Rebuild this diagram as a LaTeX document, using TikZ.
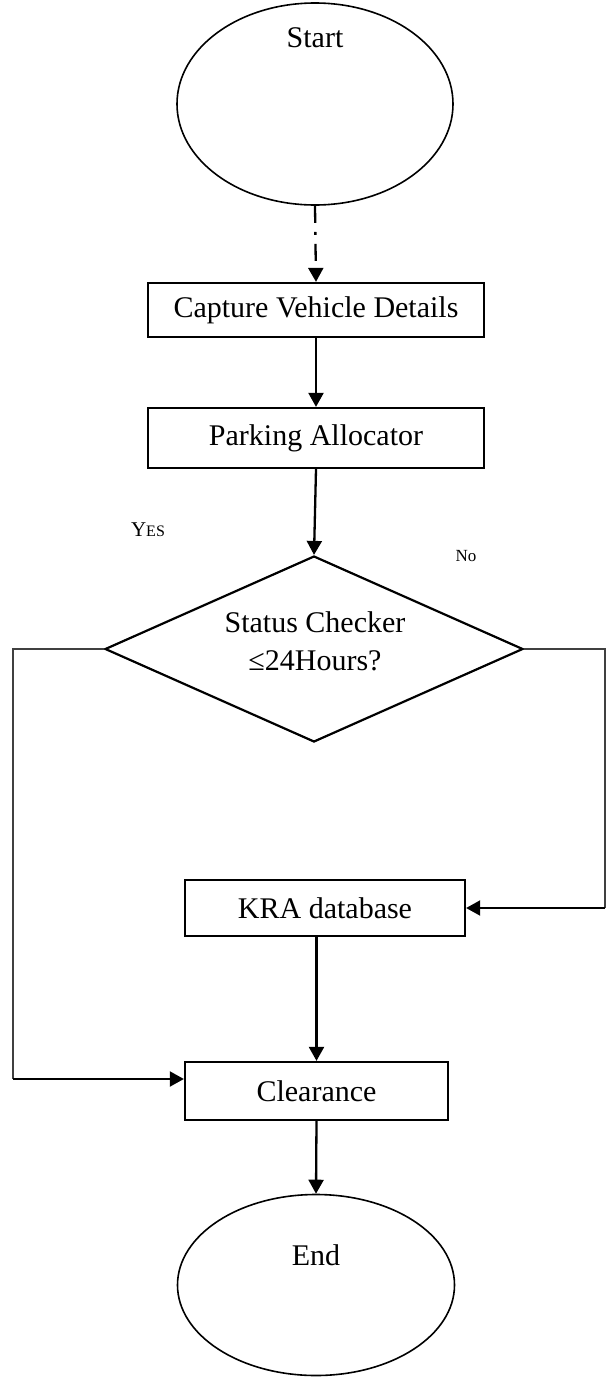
\documentclass[tikz,border=0pt]{standalone}
\usepackage{fontspec}
\setmainfont{Liberation Serif}
\usetikzlibrary{arrows.meta,shapes.geometric}
\begin{document}
\begin{tikzpicture}[x=1pt,y=-1pt,
  font=\fontsize{30}{38}\selectfont,
  terminal/.style={draw,ellipse,line width=1.6pt,inner sep=0pt},
  process/.style={draw,rectangle,line width=2.3pt,inner sep=0pt},
  decision/.style={draw,diamond,line width=2.2pt,inner sep=0pt},
  flow/.style={line width=2.3pt,-{Triangle[length=14pt,width=15pt]}},
  side/.style={line width=1.3pt,draw=black!75},
  sidearrow/.style={line width=2pt,-{Triangle[length=14pt,width=15pt]}},
  tag/.style={inner sep=0pt,font=\fontsize{21}{24}\selectfont}]
\useasboundingbox (0,0) rectangle (607,1381);

% terminals
\node[terminal,minimum width=276pt,minimum height=202pt] (start) at (315,104) {};
\node[inner sep=0pt] (starttext) at (315,38) {Start};
\node[terminal,minimum width=277pt,minimum height=181pt] (end) at (316,1285) {};
\node[inner sep=0pt] (endtext) at (316,1255) {End};

% process boxes
\node[process,minimum width=336pt,minimum height=54pt] (capture) at (316,310) {Capture Vehicle Details};
\node[process,minimum width=336pt,minimum height=60pt] (parking) at (316,438) {Parking Allocator};
\node[process,minimum width=280pt,minimum height=56pt] (kra) at (325,908) {KRA database};
\node[process,minimum width=263pt,minimum height=58pt] (clear) at (316.5,1091) {Clearance};

% decision
\node[decision,minimum width=418pt,minimum height=186pt] (check) at (314,649) {};
\node[inner sep=0pt,align=center] (checktext) at (315,641) {Status Checker\\≤24Hours?};

% branch labels
\node[tag] (yes) at (148,530) {Y\fontsize{16}{18}\selectfont ES};
\node[tag,font=\fontsize{17}{20}\selectfont] (no) at (466,556) {No};

% main flow
\draw[flow,dash pattern=on 17pt off 9pt on 3pt off 9pt] (start.south) -- (capture.north);
\draw[flow] (capture.south) -- (parking.north);
\draw[flow] (parking.south) -- (check.north);
\draw[flow] (kra.south -| clear.north) -- (clear.north);
\draw[flow] (clear.south) -- (end.north);

% yes branch: left side down to clearance
\coordinate (yl) at (13,649);
\coordinate (yb) at (13,1079);
\coordinate (yin) at (clear.west |- yb);
\draw[side] (check.west) -- (yl) -- (yb);
\draw[sidearrow] (yb) -- (yin);

% no branch: right side down to KRA database
\coordinate (nr) at (605,649);
\coordinate (nb) at (605,908);
\draw[side] (check.east) -- (nr) -- (nb);
\draw[sidearrow] (nb) -- (kra.east);
\end{tikzpicture}
\end{document}
